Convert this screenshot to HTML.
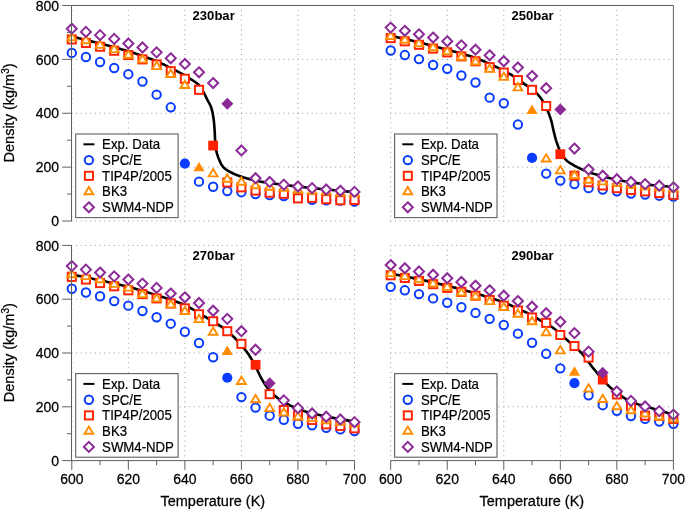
<!DOCTYPE html>
<html><head><meta charset="utf-8"><style>
html,body{margin:0;padding:0;background:#fff;width:685px;height:509px;overflow:hidden}
svg{display:block;will-change:transform}
.g{stroke:#9a9a9a;stroke-width:1;fill:none}
.ax{stroke:#606060;stroke-width:1.0;fill:none}
.tl{font-family:"Liberation Sans", sans-serif;font-size:14px;fill:#000;stroke:#000;stroke-width:0.25px}
.yl{font-family:"Liberation Sans", sans-serif;font-size:14.5px;fill:#000;stroke:#000;stroke-width:0.25px}
.lg{font-family:"Liberation Sans", sans-serif;font-size:13.2px;fill:#000;stroke:#000;stroke-width:0.2px}
.tt{font-family:"Liberation Sans", sans-serif;font-size:13.1px;font-weight:bold;fill:#000}
</style></head><body>
<svg width="685" height="509" viewBox="0 0 685 509">
<path d="M71.80,221.50V9.50" class="g" stroke-dasharray="1 3.898"/>
<path d="M128.34,221.50V9.50" class="g" stroke-dasharray="1 3.898"/>
<path d="M184.88,221.50V9.50" class="g" stroke-dasharray="1 3.898"/>
<path d="M241.42,221.50V9.50" class="g" stroke-dasharray="1 3.898"/>
<path d="M297.96,221.50V9.50" class="g" stroke-dasharray="1 3.898"/>
<path d="M354.50,221.50V9.50" class="g" stroke-dasharray="1 3.898"/>
<path d="M71.30,221.00H352.50" class="g" stroke-dasharray="1 3.712"/>
<path d="M71.30,167.12H352.50" class="g" stroke-dasharray="1 3.712"/>
<path d="M71.30,113.25H352.50" class="g" stroke-dasharray="1 3.712"/>
<path d="M71.30,59.38H352.50" class="g" stroke-dasharray="1 3.712"/>
<path d="M71.30,5.50H352.50" class="g" stroke-dasharray="1 3.712"/>
<path d="M390.70,221.50V9.50" class="g" stroke-dasharray="1 3.898"/>
<path d="M447.24,221.50V9.50" class="g" stroke-dasharray="1 3.898"/>
<path d="M503.78,221.50V9.50" class="g" stroke-dasharray="1 3.898"/>
<path d="M560.32,221.50V9.50" class="g" stroke-dasharray="1 3.898"/>
<path d="M616.86,221.50V9.50" class="g" stroke-dasharray="1 3.898"/>
<path d="M673.40,221.50V9.50" class="g" stroke-dasharray="1 3.898"/>
<path d="M390.20,221.00H671.40" class="g" stroke-dasharray="1 3.712"/>
<path d="M390.20,167.12H671.40" class="g" stroke-dasharray="1 3.712"/>
<path d="M390.20,113.25H671.40" class="g" stroke-dasharray="1 3.712"/>
<path d="M390.20,59.38H671.40" class="g" stroke-dasharray="1 3.712"/>
<path d="M390.20,5.50H671.40" class="g" stroke-dasharray="1 3.712"/>
<path d="M71.80,461.10V249.40" class="g" stroke-dasharray="1 3.891"/>
<path d="M128.34,461.10V249.40" class="g" stroke-dasharray="1 3.891"/>
<path d="M184.88,461.10V249.40" class="g" stroke-dasharray="1 3.891"/>
<path d="M241.42,461.10V249.40" class="g" stroke-dasharray="1 3.891"/>
<path d="M297.96,461.10V249.40" class="g" stroke-dasharray="1 3.891"/>
<path d="M354.50,461.10V249.40" class="g" stroke-dasharray="1 3.891"/>
<path d="M71.30,460.60H352.50" class="g" stroke-dasharray="1 3.712"/>
<path d="M71.30,406.80H352.50" class="g" stroke-dasharray="1 3.712"/>
<path d="M71.30,353.00H352.50" class="g" stroke-dasharray="1 3.712"/>
<path d="M71.30,299.20H352.50" class="g" stroke-dasharray="1 3.712"/>
<path d="M71.30,245.40H352.50" class="g" stroke-dasharray="1 3.712"/>
<path d="M390.70,461.10V249.40" class="g" stroke-dasharray="1 3.891"/>
<path d="M447.24,461.10V249.40" class="g" stroke-dasharray="1 3.891"/>
<path d="M503.78,461.10V249.40" class="g" stroke-dasharray="1 3.891"/>
<path d="M560.32,461.10V249.40" class="g" stroke-dasharray="1 3.891"/>
<path d="M616.86,461.10V249.40" class="g" stroke-dasharray="1 3.891"/>
<path d="M673.40,461.10V249.40" class="g" stroke-dasharray="1 3.891"/>
<path d="M390.20,460.60H671.40" class="g" stroke-dasharray="1 3.712"/>
<path d="M390.20,406.80H671.40" class="g" stroke-dasharray="1 3.712"/>
<path d="M390.20,353.00H671.40" class="g" stroke-dasharray="1 3.712"/>
<path d="M390.20,299.20H671.40" class="g" stroke-dasharray="1 3.712"/>
<path d="M390.20,245.40H671.40" class="g" stroke-dasharray="1 3.712"/>
<line x1="62.20" y1="221.00" x2="71.50" y2="221.00" class="ax"/>
<text transform="translate(59.1,226.20) scale(1,1.042)" class="tl" text-anchor="end">0</text>
<line x1="66.90" y1="194.06" x2="71.50" y2="194.06" class="ax"/>
<line x1="62.20" y1="167.12" x2="71.50" y2="167.12" class="ax"/>
<text transform="translate(59.1,172.32) scale(1,1.042)" class="tl" text-anchor="end">200</text>
<line x1="66.90" y1="140.19" x2="71.50" y2="140.19" class="ax"/>
<line x1="62.20" y1="113.25" x2="71.50" y2="113.25" class="ax"/>
<text transform="translate(59.1,118.45) scale(1,1.042)" class="tl" text-anchor="end">400</text>
<line x1="66.90" y1="86.31" x2="71.50" y2="86.31" class="ax"/>
<line x1="62.20" y1="59.38" x2="71.50" y2="59.38" class="ax"/>
<text transform="translate(59.1,64.58) scale(1,1.042)" class="tl" text-anchor="end">600</text>
<line x1="66.90" y1="32.44" x2="71.50" y2="32.44" class="ax"/>
<line x1="62.20" y1="5.50" x2="71.50" y2="5.50" class="ax"/>
<text transform="translate(59.1,10.70) scale(1,1.042)" class="tl" text-anchor="end">800</text>
<line x1="62.20" y1="460.60" x2="71.50" y2="460.60" class="ax"/>
<text transform="translate(59.1,465.80) scale(1,1.042)" class="tl" text-anchor="end">0</text>
<line x1="66.90" y1="433.70" x2="71.50" y2="433.70" class="ax"/>
<line x1="62.20" y1="406.80" x2="71.50" y2="406.80" class="ax"/>
<text transform="translate(59.1,412.00) scale(1,1.042)" class="tl" text-anchor="end">200</text>
<line x1="66.90" y1="379.90" x2="71.50" y2="379.90" class="ax"/>
<line x1="62.20" y1="353.00" x2="71.50" y2="353.00" class="ax"/>
<text transform="translate(59.1,358.20) scale(1,1.042)" class="tl" text-anchor="end">400</text>
<line x1="66.90" y1="326.10" x2="71.50" y2="326.10" class="ax"/>
<line x1="62.20" y1="299.20" x2="71.50" y2="299.20" class="ax"/>
<text transform="translate(59.1,304.40) scale(1,1.042)" class="tl" text-anchor="end">600</text>
<line x1="66.90" y1="272.30" x2="71.50" y2="272.30" class="ax"/>
<line x1="62.20" y1="245.40" x2="71.50" y2="245.40" class="ax"/>
<text transform="translate(59.1,250.60) scale(1,1.042)" class="tl" text-anchor="end">800</text>
<line x1="71.80" y1="460.60" x2="71.80" y2="469.90" class="ax"/>
<text transform="translate(71.80,483.8) scale(1,1.042)" class="tl" text-anchor="middle">600</text>
<line x1="100.07" y1="460.60" x2="100.07" y2="465.20" class="ax"/>
<line x1="128.34" y1="460.60" x2="128.34" y2="469.90" class="ax"/>
<text transform="translate(128.34,483.8) scale(1,1.042)" class="tl" text-anchor="middle">620</text>
<line x1="156.61" y1="460.60" x2="156.61" y2="465.20" class="ax"/>
<line x1="184.88" y1="460.60" x2="184.88" y2="469.90" class="ax"/>
<text transform="translate(184.88,483.8) scale(1,1.042)" class="tl" text-anchor="middle">640</text>
<line x1="213.15" y1="460.60" x2="213.15" y2="465.20" class="ax"/>
<line x1="241.42" y1="460.60" x2="241.42" y2="469.90" class="ax"/>
<text transform="translate(241.42,483.8) scale(1,1.042)" class="tl" text-anchor="middle">660</text>
<line x1="269.69" y1="460.60" x2="269.69" y2="465.20" class="ax"/>
<line x1="297.96" y1="460.60" x2="297.96" y2="469.90" class="ax"/>
<text transform="translate(297.96,483.8) scale(1,1.042)" class="tl" text-anchor="middle">680</text>
<line x1="326.23" y1="460.60" x2="326.23" y2="465.20" class="ax"/>
<line x1="354.50" y1="460.60" x2="354.50" y2="469.90" class="ax"/>
<text transform="translate(354.50,483.8) scale(1,1.042)" class="tl" text-anchor="middle">700</text>
<line x1="390.70" y1="460.60" x2="390.70" y2="469.90" class="ax"/>
<text transform="translate(390.70,483.8) scale(1,1.042)" class="tl" text-anchor="middle">600</text>
<line x1="418.97" y1="460.60" x2="418.97" y2="465.20" class="ax"/>
<line x1="447.24" y1="460.60" x2="447.24" y2="469.90" class="ax"/>
<text transform="translate(447.24,483.8) scale(1,1.042)" class="tl" text-anchor="middle">620</text>
<line x1="475.51" y1="460.60" x2="475.51" y2="465.20" class="ax"/>
<line x1="503.78" y1="460.60" x2="503.78" y2="469.90" class="ax"/>
<text transform="translate(503.78,483.8) scale(1,1.042)" class="tl" text-anchor="middle">640</text>
<line x1="532.05" y1="460.60" x2="532.05" y2="465.20" class="ax"/>
<line x1="560.32" y1="460.60" x2="560.32" y2="469.90" class="ax"/>
<text transform="translate(560.32,483.8) scale(1,1.042)" class="tl" text-anchor="middle">660</text>
<line x1="588.59" y1="460.60" x2="588.59" y2="465.20" class="ax"/>
<line x1="616.86" y1="460.60" x2="616.86" y2="469.90" class="ax"/>
<text transform="translate(616.86,483.8) scale(1,1.042)" class="tl" text-anchor="middle">680</text>
<line x1="645.13" y1="460.60" x2="645.13" y2="465.20" class="ax"/>
<line x1="673.40" y1="460.60" x2="673.40" y2="469.90" class="ax"/>
<text transform="translate(673.40,483.8) scale(1,1.042)" class="tl" text-anchor="middle">700</text>
<text transform="translate(14.4,112.95) rotate(-90) scale(1,1.042)" class="yl" text-anchor="middle">Density (kg/m<tspan dy="-5.6" font-size="10px">3</tspan><tspan dy="5.6">)</tspan></text>
<text transform="translate(14.4,352.70) rotate(-90) scale(1,1.042)" class="yl" text-anchor="middle">Density (kg/m<tspan dy="-5.6" font-size="10px">3</tspan><tspan dy="5.6">)</tspan></text>
<text transform="translate(212.80,505.5) scale(1,1.042)" class="yl" text-anchor="middle">Temperature (K)</text>
<text transform="translate(531.85,505.5) scale(1,1.042)" class="yl" text-anchor="middle">Temperature (K)</text>
<path d="M71.80,36.48 L73.21,36.83 L74.63,37.18 L76.04,37.53 L77.45,37.88 L78.87,38.23 L80.28,38.58 L81.69,38.93 L83.11,39.28 L84.52,39.63 L85.94,39.98 L87.35,40.33 L88.76,40.68 L90.18,41.02 L91.59,41.37 L93.00,41.71 L94.42,42.06 L95.83,42.41 L97.25,42.76 L98.66,43.12 L100.07,43.48 L101.48,43.85 L102.90,44.22 L104.31,44.59 L105.73,44.96 L107.14,45.33 L108.56,45.71 L109.97,46.09 L111.38,46.48 L112.79,46.86 L114.20,47.25 L115.62,47.64 L117.04,48.04 L118.45,48.43 L119.87,48.83 L121.28,49.23 L122.69,49.63 L124.11,50.04 L125.52,50.45 L126.93,50.87 L128.34,51.29 L129.76,51.73 L131.17,52.16 L132.59,52.61 L134.01,53.05 L135.42,53.50 L136.83,53.96 L138.25,54.43 L139.66,54.90 L141.07,55.38 L142.47,55.87 L143.89,56.38 L145.31,56.88 L146.73,57.39 L148.15,57.91 L149.57,58.44 L150.98,58.98 L152.39,59.53 L153.80,60.09 L155.21,60.67 L156.61,61.26 L158.03,61.88 L159.46,62.52 L160.87,63.17 L162.29,63.83 L163.70,64.50 L165.11,65.19 L166.52,65.88 L167.93,66.58 L169.34,67.29 L170.75,68.00 L172.17,68.71 L173.59,69.43 L175.01,70.15 L176.43,70.87 L177.85,71.61 L179.27,72.36 L180.68,73.12 L182.09,73.90 L183.49,74.71 L184.88,75.54 L186.36,76.43 L187.89,77.35 L189.45,78.31 L191.02,79.28 L192.56,80.27 L194.06,81.27 L195.48,82.27 L196.79,83.27 L197.98,84.26 L199.01,85.23 L199.61,85.88 L200.14,86.51 L200.61,87.14 L201.03,87.77 L201.42,88.40 L201.79,89.04 L202.14,89.68 L202.50,90.34 L202.87,91.01 L203.26,91.70 L203.70,92.49 L204.14,93.30 L204.57,94.13 L205.00,94.98 L205.43,95.84 L205.85,96.70 L206.27,97.56 L206.68,98.41 L207.09,99.24 L207.50,100.05 L207.87,100.77 L208.25,101.46 L208.62,102.14 L209.00,102.80 L209.37,103.47 L209.73,104.15 L210.08,104.83 L210.42,105.54 L210.73,106.28 L211.03,107.05 L211.35,108.02 L211.66,109.03 L211.93,110.07 L212.19,111.15 L212.43,112.24 L212.66,113.35 L212.87,114.48 L213.07,115.60 L213.25,116.72 L213.43,117.83 L213.60,118.97 L213.75,120.12 L213.89,121.28 L214.01,122.44 L214.12,123.61 L214.22,124.78 L214.31,125.95 L214.39,127.11 L214.48,128.27 L214.56,129.41 L214.64,130.51 L214.70,131.59 L214.75,132.68 L214.80,133.76 L214.84,134.83 L214.89,135.91 L214.93,136.98 L214.99,138.05 L215.05,139.12 L215.13,140.19 L215.21,141.25 L215.28,142.31 L215.36,143.38 L215.44,144.44 L215.53,145.50 L215.63,146.56 L215.75,147.60 L215.89,148.65 L216.06,149.68 L216.26,150.69 L216.48,151.67 L216.73,152.65 L217.00,153.63 L217.30,154.60 L217.61,155.56 L217.93,156.51 L218.27,157.44 L218.63,158.36 L218.99,159.25 L219.37,160.12 L219.71,160.89 L220.04,161.64 L220.38,162.39 L220.72,163.12 L221.08,163.83 L221.46,164.53 L221.87,165.21 L222.32,165.87 L222.80,166.51 L223.33,167.12 L223.96,167.77 L224.64,168.37 L225.37,168.96 L226.14,169.51 L226.95,170.05 L227.78,170.57 L228.63,171.07 L229.49,171.56 L230.37,172.04 L231.24,172.51 L232.20,173.01 L233.18,173.49 L234.18,173.95 L235.20,174.40 L236.24,174.82 L237.30,175.24 L238.38,175.65 L239.47,176.04 L240.58,176.44 L241.70,176.82 L243.00,177.25 L244.33,177.67 L245.69,178.08 L247.07,178.48 L248.47,178.86 L249.89,179.24 L251.31,179.60 L252.73,179.94 L254.15,180.28 L255.56,180.59 L256.93,180.89 L258.28,181.16 L259.62,181.42 L260.95,181.66 L262.30,181.89 L263.67,182.11 L265.08,182.33 L266.54,182.55 L268.08,182.78 L269.69,183.02 L272.12,183.37 L274.72,183.72 L277.45,184.08 L280.29,184.44 L283.21,184.80 L286.18,185.15 L289.17,185.51 L292.15,185.85 L295.09,186.19 L297.96,186.52 L300.79,186.84 L303.61,187.15 L306.44,187.46 L309.27,187.76 L312.09,188.05 L314.92,188.34 L317.75,188.63 L320.57,188.92 L323.40,189.20 L326.23,189.48 L329.06,189.76 L331.88,190.04 L334.71,190.31 L337.54,190.58 L340.36,190.85 L343.19,191.11 L346.02,191.38 L348.85,191.64 L351.67,191.91 L354.50,192.18" fill="none" stroke="#000" stroke-width="2.6" stroke-linejoin="round"/>
<circle cx="71.80" cy="52.91" r="4.2" fill="#fff" stroke="#0a3cff" stroke-width="2.0"/>
<circle cx="85.94" cy="56.95" r="4.2" fill="#fff" stroke="#0a3cff" stroke-width="2.0"/>
<circle cx="100.07" cy="62.07" r="4.2" fill="#fff" stroke="#0a3cff" stroke-width="2.0"/>
<circle cx="114.20" cy="68.00" r="4.2" fill="#fff" stroke="#0a3cff" stroke-width="2.0"/>
<circle cx="128.34" cy="74.19" r="4.2" fill="#fff" stroke="#0a3cff" stroke-width="2.0"/>
<circle cx="142.47" cy="81.46" r="4.2" fill="#fff" stroke="#0a3cff" stroke-width="2.0"/>
<circle cx="156.61" cy="94.66" r="4.2" fill="#fff" stroke="#0a3cff" stroke-width="2.0"/>
<circle cx="170.75" cy="107.32" r="4.2" fill="#fff" stroke="#0a3cff" stroke-width="2.0"/>
<circle cx="184.88" cy="163.62" r="5.1" fill="#0a3cff"/>
<circle cx="199.01" cy="181.67" r="4.2" fill="#fff" stroke="#0a3cff" stroke-width="2.0"/>
<circle cx="213.15" cy="186.79" r="4.2" fill="#fff" stroke="#0a3cff" stroke-width="2.0"/>
<circle cx="227.29" cy="191.10" r="4.2" fill="#fff" stroke="#0a3cff" stroke-width="2.0"/>
<circle cx="241.42" cy="192.18" r="4.2" fill="#fff" stroke="#0a3cff" stroke-width="2.0"/>
<circle cx="255.56" cy="194.06" r="4.2" fill="#fff" stroke="#0a3cff" stroke-width="2.0"/>
<circle cx="269.69" cy="195.14" r="4.2" fill="#fff" stroke="#0a3cff" stroke-width="2.0"/>
<circle cx="283.82" cy="195.95" r="4.2" fill="#fff" stroke="#0a3cff" stroke-width="2.0"/>
<circle cx="297.96" cy="197.83" r="4.2" fill="#fff" stroke="#0a3cff" stroke-width="2.0"/>
<circle cx="312.09" cy="199.72" r="4.2" fill="#fff" stroke="#0a3cff" stroke-width="2.0"/>
<circle cx="326.23" cy="200.26" r="4.2" fill="#fff" stroke="#0a3cff" stroke-width="2.0"/>
<circle cx="340.37" cy="200.53" r="4.2" fill="#fff" stroke="#0a3cff" stroke-width="2.0"/>
<circle cx="354.50" cy="201.60" r="4.2" fill="#fff" stroke="#0a3cff" stroke-width="2.0"/>
<rect x="67.75" y="35.39" width="8.10" height="8.10" fill="#fff" stroke="#ff2200" stroke-width="1.95"/>
<rect x="81.89" y="38.89" width="8.10" height="8.10" fill="#fff" stroke="#ff2200" stroke-width="1.95"/>
<rect x="96.02" y="42.66" width="8.10" height="8.10" fill="#fff" stroke="#ff2200" stroke-width="1.95"/>
<rect x="110.15" y="46.70" width="8.10" height="8.10" fill="#fff" stroke="#ff2200" stroke-width="1.95"/>
<rect x="124.29" y="51.02" width="8.10" height="8.10" fill="#fff" stroke="#ff2200" stroke-width="1.95"/>
<rect x="138.42" y="55.33" width="8.10" height="8.10" fill="#fff" stroke="#ff2200" stroke-width="1.95"/>
<rect x="152.56" y="60.44" width="8.10" height="8.10" fill="#fff" stroke="#ff2200" stroke-width="1.95"/>
<rect x="166.69" y="67.18" width="8.10" height="8.10" fill="#fff" stroke="#ff2200" stroke-width="1.95"/>
<rect x="180.83" y="74.72" width="8.10" height="8.10" fill="#fff" stroke="#ff2200" stroke-width="1.95"/>
<rect x="194.96" y="85.76" width="8.10" height="8.10" fill="#fff" stroke="#ff2200" stroke-width="1.95"/>
<rect x="208.25" y="140.67" width="9.80" height="9.80" fill="#ff2200"/>
<rect x="223.24" y="178.43" width="8.10" height="8.10" fill="#fff" stroke="#ff2200" stroke-width="1.95"/>
<rect x="237.37" y="183.28" width="8.10" height="8.10" fill="#fff" stroke="#ff2200" stroke-width="1.95"/>
<rect x="251.50" y="186.51" width="8.10" height="8.10" fill="#fff" stroke="#ff2200" stroke-width="1.95"/>
<rect x="265.64" y="188.67" width="8.10" height="8.10" fill="#fff" stroke="#ff2200" stroke-width="1.95"/>
<rect x="279.77" y="189.74" width="8.10" height="8.10" fill="#fff" stroke="#ff2200" stroke-width="1.95"/>
<rect x="293.91" y="194.32" width="8.10" height="8.10" fill="#fff" stroke="#ff2200" stroke-width="1.95"/>
<rect x="308.04" y="193.78" width="8.10" height="8.10" fill="#fff" stroke="#ff2200" stroke-width="1.95"/>
<rect x="322.18" y="195.13" width="8.10" height="8.10" fill="#fff" stroke="#ff2200" stroke-width="1.95"/>
<rect x="336.31" y="196.21" width="8.10" height="8.10" fill="#fff" stroke="#ff2200" stroke-width="1.95"/>
<rect x="350.45" y="195.94" width="8.10" height="8.10" fill="#fff" stroke="#ff2200" stroke-width="1.95"/>
<path d="M71.80,33.01L76.20,40.31L67.40,40.31Z" fill="#fff" stroke="#ff8c00" stroke-width="1.9" stroke-linejoin="miter"/>
<path d="M85.94,35.97L90.34,43.27L81.53,43.27Z" fill="#fff" stroke="#ff8c00" stroke-width="1.9" stroke-linejoin="miter"/>
<path d="M100.07,40.55L104.47,47.85L95.67,47.85Z" fill="#fff" stroke="#ff8c00" stroke-width="1.9" stroke-linejoin="miter"/>
<path d="M114.20,44.86L118.60,52.16L109.80,52.16Z" fill="#fff" stroke="#ff8c00" stroke-width="1.9" stroke-linejoin="miter"/>
<path d="M128.34,50.52L132.74,57.82L123.94,57.82Z" fill="#fff" stroke="#ff8c00" stroke-width="1.9" stroke-linejoin="miter"/>
<path d="M142.47,55.10L146.88,62.40L138.07,62.40Z" fill="#fff" stroke="#ff8c00" stroke-width="1.9" stroke-linejoin="miter"/>
<path d="M156.61,61.83L161.01,69.13L152.21,69.13Z" fill="#fff" stroke="#ff8c00" stroke-width="1.9" stroke-linejoin="miter"/>
<path d="M170.75,69.64L175.15,76.94L166.34,76.94Z" fill="#fff" stroke="#ff8c00" stroke-width="1.9" stroke-linejoin="miter"/>
<path d="M184.88,80.69L189.28,87.99L180.48,87.99Z" fill="#fff" stroke="#ff8c00" stroke-width="1.9" stroke-linejoin="miter"/>
<path d="M199.01,161.89L204.66,171.29L193.36,171.29Z" fill="#ff8c00"/>
<path d="M213.15,169.04L217.55,176.34L208.75,176.34Z" fill="#fff" stroke="#ff8c00" stroke-width="1.9" stroke-linejoin="miter"/>
<path d="M227.29,174.43L231.69,181.73L222.89,181.73Z" fill="#fff" stroke="#ff8c00" stroke-width="1.9" stroke-linejoin="miter"/>
<path d="M241.42,177.39L245.82,184.69L237.02,184.69Z" fill="#fff" stroke="#ff8c00" stroke-width="1.9" stroke-linejoin="miter"/>
<path d="M255.56,180.90L259.95,188.20L251.16,188.20Z" fill="#fff" stroke="#ff8c00" stroke-width="1.9" stroke-linejoin="miter"/>
<path d="M269.69,182.51L274.09,189.81L265.29,189.81Z" fill="#fff" stroke="#ff8c00" stroke-width="1.9" stroke-linejoin="miter"/>
<path d="M283.82,183.59L288.22,190.89L279.43,190.89Z" fill="#fff" stroke="#ff8c00" stroke-width="1.9" stroke-linejoin="miter"/>
<path d="M297.96,185.48L302.36,192.78L293.56,192.78Z" fill="#fff" stroke="#ff8c00" stroke-width="1.9" stroke-linejoin="miter"/>
<path d="M312.09,186.55L316.49,193.85L307.69,193.85Z" fill="#fff" stroke="#ff8c00" stroke-width="1.9" stroke-linejoin="miter"/>
<path d="M326.23,187.09L330.63,194.39L321.83,194.39Z" fill="#fff" stroke="#ff8c00" stroke-width="1.9" stroke-linejoin="miter"/>
<path d="M340.37,188.17L344.76,195.47L335.97,195.47Z" fill="#fff" stroke="#ff8c00" stroke-width="1.9" stroke-linejoin="miter"/>
<path d="M354.50,188.71L358.90,196.01L350.10,196.01Z" fill="#fff" stroke="#ff8c00" stroke-width="1.9" stroke-linejoin="miter"/>
<path d="M71.80,23.67L76.80,28.67L71.80,33.67L66.80,28.67Z" fill="#fff" stroke="#8b2a96" stroke-width="2.0"/>
<path d="M85.94,26.90L90.94,31.90L85.94,36.90L80.94,31.90Z" fill="#fff" stroke="#8b2a96" stroke-width="2.0"/>
<path d="M100.07,30.13L105.07,35.13L100.07,40.13L95.07,35.13Z" fill="#fff" stroke="#8b2a96" stroke-width="2.0"/>
<path d="M114.20,33.90L119.20,38.90L114.20,43.90L109.20,38.90Z" fill="#fff" stroke="#8b2a96" stroke-width="2.0"/>
<path d="M128.34,38.48L133.34,43.48L128.34,48.48L123.34,43.48Z" fill="#fff" stroke="#8b2a96" stroke-width="2.0"/>
<path d="M142.47,42.52L147.47,47.52L142.47,52.52L137.47,47.52Z" fill="#fff" stroke="#8b2a96" stroke-width="2.0"/>
<path d="M156.61,47.37L161.61,52.37L156.61,57.37L151.61,52.37Z" fill="#fff" stroke="#8b2a96" stroke-width="2.0"/>
<path d="M170.75,53.30L175.75,58.30L170.75,63.30L165.75,58.30Z" fill="#fff" stroke="#8b2a96" stroke-width="2.0"/>
<path d="M184.88,58.95L189.88,63.95L184.88,68.95L179.88,63.95Z" fill="#fff" stroke="#8b2a96" stroke-width="2.0"/>
<path d="M199.01,67.31L204.01,72.31L199.01,77.31L194.01,72.31Z" fill="#fff" stroke="#8b2a96" stroke-width="2.0"/>
<path d="M213.15,78.08L218.15,83.08L213.15,88.08L208.15,83.08Z" fill="#fff" stroke="#8b2a96" stroke-width="2.0"/>
<path d="M227.29,97.82L233.29,103.82L227.29,109.82L221.29,103.82Z" fill="#8b2a96"/>
<path d="M241.42,145.42L246.42,150.42L241.42,155.42L236.42,150.42Z" fill="#fff" stroke="#8b2a96" stroke-width="2.0"/>
<path d="M255.56,173.17L260.56,178.17L255.56,183.17L250.56,178.17Z" fill="#fff" stroke="#8b2a96" stroke-width="2.0"/>
<path d="M269.69,176.94L274.69,181.94L269.69,186.94L264.69,181.94Z" fill="#fff" stroke="#8b2a96" stroke-width="2.0"/>
<path d="M283.82,179.63L288.82,184.63L283.82,189.63L278.82,184.63Z" fill="#fff" stroke="#8b2a96" stroke-width="2.0"/>
<path d="M297.96,181.52L302.96,186.52L297.96,191.52L292.96,186.52Z" fill="#fff" stroke="#8b2a96" stroke-width="2.0"/>
<path d="M312.09,183.14L317.09,188.14L312.09,193.14L307.09,188.14Z" fill="#fff" stroke="#8b2a96" stroke-width="2.0"/>
<path d="M326.23,184.48L331.23,189.48L326.23,194.48L321.23,189.48Z" fill="#fff" stroke="#8b2a96" stroke-width="2.0"/>
<path d="M340.37,185.83L345.37,190.83L340.37,195.83L335.37,190.83Z" fill="#fff" stroke="#8b2a96" stroke-width="2.0"/>
<path d="M354.50,186.91L359.50,191.91L354.50,196.91L349.50,191.91Z" fill="#fff" stroke="#8b2a96" stroke-width="2.0"/>
<text transform="translate(213.65,20.20) scale(1,1.042)" class="tt" text-anchor="middle">230bar</text>
<rect x="75.70" y="134.00" width="102.4" height="83.6" fill="#fff" stroke="#606060" stroke-width="1.1"/>
<line x1="83.40" y1="144.30" x2="94.40" y2="144.30" stroke="#000" stroke-width="2.0"/>
<circle cx="88.90" cy="160.10" r="4.2" fill="#fff" stroke="#0a3cff" stroke-width="2.0"/>
<rect x="84.85" y="171.75" width="8.10" height="8.10" fill="#fff" stroke="#ff2200" stroke-width="1.95"/>
<path d="M88.90,186.90L93.30,194.20L84.50,194.20Z" fill="#fff" stroke="#ff8c00" stroke-width="1.9" stroke-linejoin="miter"/>
<path d="M88.90,202.30L93.90,207.30L88.90,212.30L83.90,207.30Z" fill="#fff" stroke="#8b2a96" stroke-width="2.0"/>
<text transform="translate(102.10,149.20) scale(1,1.042)" class="lg">Exp. Data</text>
<text transform="translate(102.10,165.00) scale(1,1.042)" class="lg">SPC/E</text>
<text transform="translate(102.10,180.70) scale(1,1.042)" class="lg">TIP4P/2005</text>
<text transform="translate(102.10,196.30) scale(1,1.042)" class="lg">BK3</text>
<text transform="translate(102.10,212.20) scale(1,1.042)" class="lg">SWM4-NDP</text>
<path d="M390.70,35.67 L393.53,36.34 L396.36,37.01 L399.18,37.67 L402.01,38.34 L404.84,39.00 L407.67,39.67 L410.49,40.35 L413.32,41.02 L416.15,41.71 L418.97,42.40 L421.80,43.11 L424.63,43.81 L427.46,44.52 L430.29,45.23 L433.12,45.94 L435.94,46.67 L438.77,47.40 L441.60,48.15 L444.42,48.91 L447.24,49.68 L450.08,50.45 L452.91,51.22 L455.75,51.98 L458.59,52.75 L461.43,53.54 L464.26,54.35 L467.08,55.20 L469.90,56.09 L472.71,57.03 L475.51,58.03 L478.41,59.13 L481.37,60.32 L484.37,61.56 L487.36,62.86 L490.33,64.19 L493.24,65.52 L496.07,66.86 L498.79,68.18 L501.37,69.46 L503.78,70.69 L505.44,71.56 L507.04,72.42 L508.58,73.28 L510.08,74.14 L511.51,74.98 L512.90,75.82 L514.23,76.64 L515.51,77.46 L516.74,78.26 L517.91,79.04 L518.74,79.61 L519.51,80.17 L520.24,80.72 L520.94,81.26 L521.62,81.80 L522.28,82.34 L522.94,82.86 L523.61,83.39 L524.28,83.91 L524.98,84.43 L525.69,84.93 L526.41,85.42 L527.13,85.89 L527.85,86.37 L528.58,86.84 L529.30,87.31 L530.01,87.79 L530.71,88.27 L531.39,88.77 L532.05,89.28 L532.66,89.76 L533.26,90.25 L533.85,90.74 L534.43,91.24 L535.00,91.74 L535.55,92.25 L536.11,92.77 L536.65,93.30 L537.18,93.84 L537.70,94.39 L538.23,94.97 L538.74,95.55 L539.24,96.15 L539.74,96.76 L540.22,97.37 L540.70,98.00 L541.17,98.63 L541.62,99.28 L542.07,99.93 L542.51,100.59 L542.95,101.27 L543.37,101.95 L543.78,102.63 L544.17,103.32 L544.56,104.02 L544.95,104.74 L545.33,105.48 L545.71,106.24 L546.08,107.03 L546.47,107.86 L546.97,109.00 L547.49,110.23 L548.02,111.52 L548.54,112.86 L549.05,114.23 L549.55,115.60 L550.03,116.96 L550.48,118.30 L550.90,119.58 L551.27,120.79 L551.54,121.71 L551.77,122.60 L551.97,123.46 L552.16,124.30 L552.34,125.13 L552.51,125.96 L552.68,126.80 L552.85,127.65 L553.04,128.52 L553.25,129.41 L553.51,130.49 L553.79,131.64 L554.09,132.84 L554.39,134.05 L554.69,135.27 L554.99,136.45 L555.28,137.59 L555.57,138.65 L555.83,139.62 L556.08,140.46 L556.20,140.85 L556.31,141.21 L556.42,141.53 L556.52,141.83 L556.62,142.11 L556.73,142.39 L556.83,142.68 L556.95,142.98 L557.07,143.32 L557.21,143.69 L557.45,144.35 L557.70,145.08 L557.96,145.86 L558.24,146.69 L558.53,147.54 L558.85,148.40 L559.18,149.27 L559.54,150.13 L559.92,150.97 L560.32,151.77 L560.78,152.61 L561.26,153.46 L561.76,154.31 L562.29,155.16 L562.84,156.00 L563.42,156.82 L564.02,157.62 L564.64,158.40 L565.30,159.15 L565.97,159.85 L566.68,160.52 L567.41,161.15 L568.16,161.74 L568.94,162.31 L569.74,162.86 L570.57,163.40 L571.43,163.92 L572.31,164.44 L573.23,164.97 L574.17,165.51 L575.41,166.19 L576.71,166.88 L578.08,167.56 L579.49,168.24 L580.94,168.91 L582.41,169.57 L583.89,170.21 L585.38,170.83 L586.85,171.42 L588.31,171.97 L589.73,172.49 L591.16,172.98 L592.60,173.44 L594.04,173.88 L595.49,174.30 L596.94,174.71 L598.39,175.11 L599.84,175.50 L601.28,175.89 L602.72,176.28 L604.12,176.66 L605.47,177.03 L606.81,177.39 L608.14,177.75 L609.48,178.09 L610.85,178.43 L612.25,178.77 L613.71,179.11 L615.24,179.45 L616.86,179.79 L619.29,180.27 L621.88,180.76 L624.61,181.25 L627.45,181.74 L630.37,182.22 L633.34,182.69 L636.33,183.14 L639.31,183.58 L642.25,183.98 L645.13,184.37 L647.95,184.71 L650.78,185.02 L653.60,185.31 L656.43,185.58 L659.26,185.83 L662.09,186.07 L664.92,186.31 L667.74,186.55 L670.57,186.80 L673.40,187.06" fill="none" stroke="#000" stroke-width="2.6" stroke-linejoin="round"/>
<circle cx="390.70" cy="50.49" r="4.2" fill="#fff" stroke="#0a3cff" stroke-width="2.0"/>
<circle cx="404.83" cy="55.06" r="4.2" fill="#fff" stroke="#0a3cff" stroke-width="2.0"/>
<circle cx="418.97" cy="59.11" r="4.2" fill="#fff" stroke="#0a3cff" stroke-width="2.0"/>
<circle cx="433.10" cy="65.03" r="4.2" fill="#fff" stroke="#0a3cff" stroke-width="2.0"/>
<circle cx="447.24" cy="68.80" r="4.2" fill="#fff" stroke="#0a3cff" stroke-width="2.0"/>
<circle cx="461.38" cy="75.54" r="4.2" fill="#fff" stroke="#0a3cff" stroke-width="2.0"/>
<circle cx="475.51" cy="82.54" r="4.2" fill="#fff" stroke="#0a3cff" stroke-width="2.0"/>
<circle cx="489.64" cy="97.63" r="4.2" fill="#fff" stroke="#0a3cff" stroke-width="2.0"/>
<circle cx="503.78" cy="103.28" r="4.2" fill="#fff" stroke="#0a3cff" stroke-width="2.0"/>
<circle cx="517.91" cy="124.56" r="4.2" fill="#fff" stroke="#0a3cff" stroke-width="2.0"/>
<circle cx="532.05" cy="157.97" r="5.1" fill="#0a3cff"/>
<circle cx="546.18" cy="173.59" r="4.2" fill="#fff" stroke="#0a3cff" stroke-width="2.0"/>
<circle cx="560.32" cy="180.59" r="4.2" fill="#fff" stroke="#0a3cff" stroke-width="2.0"/>
<circle cx="574.45" cy="184.10" r="4.2" fill="#fff" stroke="#0a3cff" stroke-width="2.0"/>
<circle cx="588.59" cy="188.14" r="4.2" fill="#fff" stroke="#0a3cff" stroke-width="2.0"/>
<circle cx="602.72" cy="189.48" r="4.2" fill="#fff" stroke="#0a3cff" stroke-width="2.0"/>
<circle cx="616.86" cy="191.37" r="4.2" fill="#fff" stroke="#0a3cff" stroke-width="2.0"/>
<circle cx="631.00" cy="193.52" r="4.2" fill="#fff" stroke="#0a3cff" stroke-width="2.0"/>
<circle cx="645.13" cy="194.60" r="4.2" fill="#fff" stroke="#0a3cff" stroke-width="2.0"/>
<circle cx="659.26" cy="195.68" r="4.2" fill="#fff" stroke="#0a3cff" stroke-width="2.0"/>
<circle cx="673.40" cy="196.49" r="4.2" fill="#fff" stroke="#0a3cff" stroke-width="2.0"/>
<rect x="386.65" y="34.04" width="8.10" height="8.10" fill="#fff" stroke="#ff2200" stroke-width="1.95"/>
<rect x="400.78" y="37.28" width="8.10" height="8.10" fill="#fff" stroke="#ff2200" stroke-width="1.95"/>
<rect x="414.92" y="40.78" width="8.10" height="8.10" fill="#fff" stroke="#ff2200" stroke-width="1.95"/>
<rect x="429.05" y="44.55" width="8.10" height="8.10" fill="#fff" stroke="#ff2200" stroke-width="1.95"/>
<rect x="443.19" y="48.32" width="8.10" height="8.10" fill="#fff" stroke="#ff2200" stroke-width="1.95"/>
<rect x="457.32" y="52.36" width="8.10" height="8.10" fill="#fff" stroke="#ff2200" stroke-width="1.95"/>
<rect x="471.46" y="57.21" width="8.10" height="8.10" fill="#fff" stroke="#ff2200" stroke-width="1.95"/>
<rect x="485.59" y="63.14" width="8.10" height="8.10" fill="#fff" stroke="#ff2200" stroke-width="1.95"/>
<rect x="499.73" y="68.52" width="8.10" height="8.10" fill="#fff" stroke="#ff2200" stroke-width="1.95"/>
<rect x="513.87" y="76.07" width="8.10" height="8.10" fill="#fff" stroke="#ff2200" stroke-width="1.95"/>
<rect x="528.00" y="85.76" width="8.10" height="8.10" fill="#fff" stroke="#ff2200" stroke-width="1.95"/>
<rect x="542.13" y="101.93" width="8.10" height="8.10" fill="#fff" stroke="#ff2200" stroke-width="1.95"/>
<rect x="555.42" y="149.29" width="9.80" height="9.80" fill="#ff2200"/>
<rect x="570.40" y="171.69" width="8.10" height="8.10" fill="#fff" stroke="#ff2200" stroke-width="1.95"/>
<rect x="584.54" y="178.16" width="8.10" height="8.10" fill="#fff" stroke="#ff2200" stroke-width="1.95"/>
<rect x="598.67" y="181.39" width="8.10" height="8.10" fill="#fff" stroke="#ff2200" stroke-width="1.95"/>
<rect x="612.81" y="184.09" width="8.10" height="8.10" fill="#fff" stroke="#ff2200" stroke-width="1.95"/>
<rect x="626.95" y="185.97" width="8.10" height="8.10" fill="#fff" stroke="#ff2200" stroke-width="1.95"/>
<rect x="641.08" y="187.32" width="8.10" height="8.10" fill="#fff" stroke="#ff2200" stroke-width="1.95"/>
<rect x="655.22" y="188.94" width="8.10" height="8.10" fill="#fff" stroke="#ff2200" stroke-width="1.95"/>
<rect x="669.35" y="190.82" width="8.10" height="8.10" fill="#fff" stroke="#ff2200" stroke-width="1.95"/>
<path d="M390.70,31.66L395.10,38.96L386.30,38.96Z" fill="#fff" stroke="#ff8c00" stroke-width="1.9" stroke-linejoin="miter"/>
<path d="M404.83,35.43L409.23,42.73L400.44,42.73Z" fill="#fff" stroke="#ff8c00" stroke-width="1.9" stroke-linejoin="miter"/>
<path d="M418.97,38.94L423.37,46.24L414.57,46.24Z" fill="#fff" stroke="#ff8c00" stroke-width="1.9" stroke-linejoin="miter"/>
<path d="M433.10,42.98L437.50,50.28L428.70,50.28Z" fill="#fff" stroke="#ff8c00" stroke-width="1.9" stroke-linejoin="miter"/>
<path d="M447.24,47.02L451.64,54.32L442.84,54.32Z" fill="#fff" stroke="#ff8c00" stroke-width="1.9" stroke-linejoin="miter"/>
<path d="M461.38,52.40L465.77,59.70L456.98,59.70Z" fill="#fff" stroke="#ff8c00" stroke-width="1.9" stroke-linejoin="miter"/>
<path d="M475.51,57.25L479.91,64.55L471.11,64.55Z" fill="#fff" stroke="#ff8c00" stroke-width="1.9" stroke-linejoin="miter"/>
<path d="M489.64,64.53L494.04,71.83L485.25,71.83Z" fill="#fff" stroke="#ff8c00" stroke-width="1.9" stroke-linejoin="miter"/>
<path d="M503.78,72.61L508.18,79.91L499.38,79.91Z" fill="#fff" stroke="#ff8c00" stroke-width="1.9" stroke-linejoin="miter"/>
<path d="M517.91,83.11L522.31,90.41L513.51,90.41Z" fill="#fff" stroke="#ff8c00" stroke-width="1.9" stroke-linejoin="miter"/>
<path d="M532.05,104.51L537.70,113.91L526.40,113.91Z" fill="#ff8c00"/>
<path d="M546.18,154.23L550.58,161.53L541.78,161.53Z" fill="#fff" stroke="#ff8c00" stroke-width="1.9" stroke-linejoin="miter"/>
<path d="M560.32,166.08L564.72,173.38L555.92,173.38Z" fill="#fff" stroke="#ff8c00" stroke-width="1.9" stroke-linejoin="miter"/>
<path d="M574.45,170.93L578.85,178.23L570.05,178.23Z" fill="#fff" stroke="#ff8c00" stroke-width="1.9" stroke-linejoin="miter"/>
<path d="M588.59,175.51L592.99,182.81L584.19,182.81Z" fill="#fff" stroke="#ff8c00" stroke-width="1.9" stroke-linejoin="miter"/>
<path d="M602.72,177.12L607.12,184.42L598.32,184.42Z" fill="#fff" stroke="#ff8c00" stroke-width="1.9" stroke-linejoin="miter"/>
<path d="M616.86,178.74L621.26,186.04L612.46,186.04Z" fill="#fff" stroke="#ff8c00" stroke-width="1.9" stroke-linejoin="miter"/>
<path d="M631.00,180.63L635.39,187.93L626.60,187.93Z" fill="#fff" stroke="#ff8c00" stroke-width="1.9" stroke-linejoin="miter"/>
<path d="M645.13,181.97L649.53,189.27L640.73,189.27Z" fill="#fff" stroke="#ff8c00" stroke-width="1.9" stroke-linejoin="miter"/>
<path d="M659.26,183.05L663.66,190.35L654.87,190.35Z" fill="#fff" stroke="#ff8c00" stroke-width="1.9" stroke-linejoin="miter"/>
<path d="M673.40,184.13L677.80,191.43L669.00,191.43Z" fill="#fff" stroke="#ff8c00" stroke-width="1.9" stroke-linejoin="miter"/>
<path d="M390.70,22.59L395.70,27.59L390.70,32.59L385.70,27.59Z" fill="#fff" stroke="#8b2a96" stroke-width="2.0"/>
<path d="M404.83,25.82L409.83,30.82L404.83,35.82L399.83,30.82Z" fill="#fff" stroke="#8b2a96" stroke-width="2.0"/>
<path d="M418.97,29.32L423.97,34.32L418.97,39.32L413.97,34.32Z" fill="#fff" stroke="#8b2a96" stroke-width="2.0"/>
<path d="M433.10,32.56L438.10,37.56L433.10,42.56L428.10,37.56Z" fill="#fff" stroke="#8b2a96" stroke-width="2.0"/>
<path d="M447.24,36.33L452.24,41.33L447.24,46.33L442.24,41.33Z" fill="#fff" stroke="#8b2a96" stroke-width="2.0"/>
<path d="M461.38,40.37L466.38,45.37L461.38,50.37L456.38,45.37Z" fill="#fff" stroke="#8b2a96" stroke-width="2.0"/>
<path d="M475.51,44.68L480.51,49.68L475.51,54.68L470.51,49.68Z" fill="#fff" stroke="#8b2a96" stroke-width="2.0"/>
<path d="M489.64,50.33L494.64,55.33L489.64,60.33L484.64,55.33Z" fill="#fff" stroke="#8b2a96" stroke-width="2.0"/>
<path d="M503.78,56.26L508.78,61.26L503.78,66.26L498.78,61.26Z" fill="#fff" stroke="#8b2a96" stroke-width="2.0"/>
<path d="M517.91,62.46L522.91,67.46L517.91,72.46L512.91,67.46Z" fill="#fff" stroke="#8b2a96" stroke-width="2.0"/>
<path d="M532.05,71.08L537.05,76.08L532.05,81.08L527.05,76.08Z" fill="#fff" stroke="#8b2a96" stroke-width="2.0"/>
<path d="M546.18,83.20L551.18,88.20L546.18,93.20L541.18,88.20Z" fill="#fff" stroke="#8b2a96" stroke-width="2.0"/>
<path d="M560.32,103.48L566.32,109.48L560.32,115.48L554.32,109.48Z" fill="#8b2a96"/>
<path d="M574.45,143.54L579.45,148.54L574.45,153.54L569.45,148.54Z" fill="#fff" stroke="#8b2a96" stroke-width="2.0"/>
<path d="M588.59,164.55L593.59,169.55L588.59,174.55L583.59,169.55Z" fill="#fff" stroke="#8b2a96" stroke-width="2.0"/>
<path d="M602.72,170.75L607.72,175.75L602.72,180.75L597.72,175.75Z" fill="#fff" stroke="#8b2a96" stroke-width="2.0"/>
<path d="M616.86,174.25L621.86,179.25L616.86,184.25L611.86,179.25Z" fill="#fff" stroke="#8b2a96" stroke-width="2.0"/>
<path d="M631.00,176.94L636.00,181.94L631.00,186.94L626.00,181.94Z" fill="#fff" stroke="#8b2a96" stroke-width="2.0"/>
<path d="M645.13,179.10L650.13,184.10L645.13,189.10L640.13,184.10Z" fill="#fff" stroke="#8b2a96" stroke-width="2.0"/>
<path d="M659.26,180.71L664.26,185.71L659.26,190.71L654.26,185.71Z" fill="#fff" stroke="#8b2a96" stroke-width="2.0"/>
<path d="M673.40,182.33L678.40,187.33L673.40,192.33L668.40,187.33Z" fill="#fff" stroke="#8b2a96" stroke-width="2.0"/>
<text transform="translate(532.55,20.20) scale(1,1.042)" class="tt" text-anchor="middle">250bar</text>
<rect x="394.60" y="134.00" width="102.4" height="83.6" fill="#fff" stroke="#606060" stroke-width="1.1"/>
<line x1="402.30" y1="144.30" x2="413.30" y2="144.30" stroke="#000" stroke-width="2.0"/>
<circle cx="407.80" cy="160.10" r="4.2" fill="#fff" stroke="#0a3cff" stroke-width="2.0"/>
<rect x="403.75" y="171.75" width="8.10" height="8.10" fill="#fff" stroke="#ff2200" stroke-width="1.95"/>
<path d="M407.80,186.90L412.20,194.20L403.40,194.20Z" fill="#fff" stroke="#ff8c00" stroke-width="1.9" stroke-linejoin="miter"/>
<path d="M407.80,202.30L412.80,207.30L407.80,212.30L402.80,207.30Z" fill="#fff" stroke="#8b2a96" stroke-width="2.0"/>
<text transform="translate(421.00,149.20) scale(1,1.042)" class="lg">Exp. Data</text>
<text transform="translate(421.00,165.00) scale(1,1.042)" class="lg">SPC/E</text>
<text transform="translate(421.00,180.70) scale(1,1.042)" class="lg">TIP4P/2005</text>
<text transform="translate(421.00,196.30) scale(1,1.042)" class="lg">BK3</text>
<text transform="translate(421.00,212.20) scale(1,1.042)" class="lg">SWM4-NDP</text>
<path d="M71.80,274.45 L74.63,275.04 L77.45,275.63 L80.28,276.21 L83.11,276.79 L85.94,277.38 L88.77,277.97 L91.59,278.56 L94.42,279.15 L97.25,279.76 L100.07,280.37 L102.90,280.99 L105.73,281.60 L108.56,282.21 L111.39,282.83 L114.22,283.45 L117.05,284.09 L119.88,284.74 L122.70,285.41 L125.52,286.10 L128.34,286.83 L131.18,287.58 L134.01,288.35 L136.85,289.14 L139.68,289.96 L142.50,290.79 L145.33,291.63 L148.15,292.49 L150.97,293.37 L153.79,294.26 L156.61,295.16 L159.49,296.09 L162.43,297.03 L165.41,297.99 L168.39,298.96 L171.35,299.95 L174.26,300.96 L177.10,301.97 L179.83,303.01 L182.44,304.06 L184.88,305.12 L186.64,305.94 L188.31,306.79 L189.91,307.64 L191.46,308.51 L192.95,309.38 L194.41,310.25 L195.85,311.13 L197.28,312.00 L198.71,312.87 L200.15,313.73 L201.47,314.51 L202.76,315.28 L204.04,316.05 L205.30,316.82 L206.55,317.59 L207.80,318.36 L209.05,319.13 L210.31,319.92 L211.58,320.72 L212.87,321.53 L214.26,322.39 L215.67,323.24 L217.10,324.09 L218.54,324.95 L219.97,325.82 L221.41,326.71 L222.84,327.63 L224.25,328.60 L225.64,329.61 L227.00,330.67 L228.47,331.91 L229.94,333.23 L231.42,334.62 L232.88,336.06 L234.32,337.52 L235.72,339.00 L237.09,340.47 L238.41,341.92 L239.67,343.32 L240.85,344.66 L241.74,345.67 L242.59,346.66 L243.40,347.62 L244.18,348.57 L244.93,349.51 L245.66,350.45 L246.38,351.40 L247.09,352.36 L247.79,353.34 L248.49,354.35 L249.19,355.40 L249.88,356.46 L250.55,357.54 L251.21,358.62 L251.85,359.72 L252.49,360.83 L253.12,361.96 L253.75,363.09 L254.37,364.23 L254.99,365.37 L255.63,366.60 L256.26,367.86 L256.87,369.14 L257.48,370.43 L258.09,371.73 L258.69,373.03 L259.30,374.31 L259.92,375.58 L260.56,376.82 L261.21,378.02 L261.82,379.10 L262.43,380.18 L263.04,381.24 L263.66,382.28 L264.28,383.31 L264.92,384.32 L265.58,385.33 L266.26,386.31 L266.97,387.28 L267.71,388.24 L268.49,389.20 L269.30,390.15 L270.13,391.09 L270.98,392.01 L271.86,392.92 L272.75,393.81 L273.66,394.67 L274.58,395.51 L275.52,396.33 L276.47,397.12 L277.42,397.86 L278.38,398.56 L279.36,399.24 L280.35,399.90 L281.36,400.53 L282.38,401.16 L283.42,401.77 L284.48,402.37 L285.56,402.97 L286.65,403.57 L287.87,404.24 L289.09,404.89 L290.32,405.53 L291.57,406.17 L292.84,406.79 L294.15,407.41 L295.51,408.01 L296.92,408.60 L298.39,409.19 L299.94,409.76 L302.18,410.52 L304.57,411.26 L307.09,411.97 L309.72,412.67 L312.42,413.35 L315.18,414.01 L317.96,414.66 L320.75,415.28 L323.51,415.89 L326.23,416.48 L329.01,417.07 L331.80,417.62 L334.62,418.15 L337.45,418.66 L340.29,419.15 L343.13,419.64 L345.98,420.12 L348.83,420.60 L351.67,421.09 L354.50,421.60" fill="none" stroke="#000" stroke-width="2.6" stroke-linejoin="round"/>
<circle cx="71.80" cy="288.71" r="4.2" fill="#fff" stroke="#0a3cff" stroke-width="2.0"/>
<circle cx="85.94" cy="292.48" r="4.2" fill="#fff" stroke="#0a3cff" stroke-width="2.0"/>
<circle cx="100.07" cy="296.24" r="4.2" fill="#fff" stroke="#0a3cff" stroke-width="2.0"/>
<circle cx="114.20" cy="301.08" r="4.2" fill="#fff" stroke="#0a3cff" stroke-width="2.0"/>
<circle cx="128.34" cy="305.66" r="4.2" fill="#fff" stroke="#0a3cff" stroke-width="2.0"/>
<circle cx="142.47" cy="311.04" r="4.2" fill="#fff" stroke="#0a3cff" stroke-width="2.0"/>
<circle cx="156.61" cy="317.22" r="4.2" fill="#fff" stroke="#0a3cff" stroke-width="2.0"/>
<circle cx="170.75" cy="323.68" r="4.2" fill="#fff" stroke="#0a3cff" stroke-width="2.0"/>
<circle cx="184.88" cy="331.75" r="4.2" fill="#fff" stroke="#0a3cff" stroke-width="2.0"/>
<circle cx="199.01" cy="343.05" r="4.2" fill="#fff" stroke="#0a3cff" stroke-width="2.0"/>
<circle cx="213.15" cy="357.30" r="4.2" fill="#fff" stroke="#0a3cff" stroke-width="2.0"/>
<circle cx="227.29" cy="377.75" r="5.1" fill="#0a3cff"/>
<circle cx="241.42" cy="397.12" r="4.2" fill="#fff" stroke="#0a3cff" stroke-width="2.0"/>
<circle cx="255.56" cy="407.61" r="4.2" fill="#fff" stroke="#0a3cff" stroke-width="2.0"/>
<circle cx="269.69" cy="415.68" r="4.2" fill="#fff" stroke="#0a3cff" stroke-width="2.0"/>
<circle cx="283.82" cy="419.71" r="4.2" fill="#fff" stroke="#0a3cff" stroke-width="2.0"/>
<circle cx="297.96" cy="423.75" r="4.2" fill="#fff" stroke="#0a3cff" stroke-width="2.0"/>
<circle cx="312.09" cy="425.36" r="4.2" fill="#fff" stroke="#0a3cff" stroke-width="2.0"/>
<circle cx="326.23" cy="427.78" r="4.2" fill="#fff" stroke="#0a3cff" stroke-width="2.0"/>
<circle cx="340.37" cy="429.40" r="4.2" fill="#fff" stroke="#0a3cff" stroke-width="2.0"/>
<circle cx="354.50" cy="431.01" r="4.2" fill="#fff" stroke="#0a3cff" stroke-width="2.0"/>
<rect x="67.75" y="272.82" width="8.10" height="8.10" fill="#fff" stroke="#ff2200" stroke-width="1.95"/>
<rect x="81.89" y="275.51" width="8.10" height="8.10" fill="#fff" stroke="#ff2200" stroke-width="1.95"/>
<rect x="96.02" y="279.01" width="8.10" height="8.10" fill="#fff" stroke="#ff2200" stroke-width="1.95"/>
<rect x="110.15" y="282.24" width="8.10" height="8.10" fill="#fff" stroke="#ff2200" stroke-width="1.95"/>
<rect x="124.29" y="286.27" width="8.10" height="8.10" fill="#fff" stroke="#ff2200" stroke-width="1.95"/>
<rect x="138.42" y="290.04" width="8.10" height="8.10" fill="#fff" stroke="#ff2200" stroke-width="1.95"/>
<rect x="152.56" y="294.34" width="8.10" height="8.10" fill="#fff" stroke="#ff2200" stroke-width="1.95"/>
<rect x="166.69" y="299.45" width="8.10" height="8.10" fill="#fff" stroke="#ff2200" stroke-width="1.95"/>
<rect x="180.83" y="304.30" width="8.10" height="8.10" fill="#fff" stroke="#ff2200" stroke-width="1.95"/>
<rect x="194.96" y="310.21" width="8.10" height="8.10" fill="#fff" stroke="#ff2200" stroke-width="1.95"/>
<rect x="209.10" y="317.21" width="8.10" height="8.10" fill="#fff" stroke="#ff2200" stroke-width="1.95"/>
<rect x="223.24" y="327.16" width="8.10" height="8.10" fill="#fff" stroke="#ff2200" stroke-width="1.95"/>
<rect x="237.37" y="339.80" width="8.10" height="8.10" fill="#fff" stroke="#ff2200" stroke-width="1.95"/>
<rect x="250.66" y="359.94" width="9.80" height="9.80" fill="#ff2200"/>
<rect x="265.64" y="390.11" width="8.10" height="8.10" fill="#fff" stroke="#ff2200" stroke-width="1.95"/>
<rect x="279.77" y="405.98" width="8.10" height="8.10" fill="#fff" stroke="#ff2200" stroke-width="1.95"/>
<rect x="293.91" y="411.36" width="8.10" height="8.10" fill="#fff" stroke="#ff2200" stroke-width="1.95"/>
<rect x="308.04" y="415.93" width="8.10" height="8.10" fill="#fff" stroke="#ff2200" stroke-width="1.95"/>
<rect x="322.18" y="420.24" width="8.10" height="8.10" fill="#fff" stroke="#ff2200" stroke-width="1.95"/>
<rect x="336.31" y="421.85" width="8.10" height="8.10" fill="#fff" stroke="#ff2200" stroke-width="1.95"/>
<rect x="350.45" y="424.27" width="8.10" height="8.10" fill="#fff" stroke="#ff2200" stroke-width="1.95"/>
<path d="M71.80,269.91L76.20,277.21L67.40,277.21Z" fill="#fff" stroke="#ff8c00" stroke-width="1.9" stroke-linejoin="miter"/>
<path d="M85.94,271.79L90.34,279.09L81.53,279.09Z" fill="#fff" stroke="#ff8c00" stroke-width="1.9" stroke-linejoin="miter"/>
<path d="M100.07,275.02L104.47,282.32L95.67,282.32Z" fill="#fff" stroke="#ff8c00" stroke-width="1.9" stroke-linejoin="miter"/>
<path d="M114.20,279.59L118.60,286.89L109.80,286.89Z" fill="#fff" stroke="#ff8c00" stroke-width="1.9" stroke-linejoin="miter"/>
<path d="M128.34,283.36L132.74,290.66L123.94,290.66Z" fill="#fff" stroke="#ff8c00" stroke-width="1.9" stroke-linejoin="miter"/>
<path d="M142.47,289.81L146.88,297.11L138.07,297.11Z" fill="#fff" stroke="#ff8c00" stroke-width="1.9" stroke-linejoin="miter"/>
<path d="M156.61,294.12L161.01,301.42L152.21,301.42Z" fill="#fff" stroke="#ff8c00" stroke-width="1.9" stroke-linejoin="miter"/>
<path d="M170.75,300.04L175.15,307.34L166.34,307.34Z" fill="#fff" stroke="#ff8c00" stroke-width="1.9" stroke-linejoin="miter"/>
<path d="M184.88,306.76L189.28,314.06L180.48,314.06Z" fill="#fff" stroke="#ff8c00" stroke-width="1.9" stroke-linejoin="miter"/>
<path d="M199.01,314.83L203.41,322.13L194.61,322.13Z" fill="#fff" stroke="#ff8c00" stroke-width="1.9" stroke-linejoin="miter"/>
<path d="M213.15,327.47L217.55,334.77L208.75,334.77Z" fill="#fff" stroke="#ff8c00" stroke-width="1.9" stroke-linejoin="miter"/>
<path d="M227.29,345.61L232.94,355.01L221.64,355.01Z" fill="#ff8c00"/>
<path d="M241.42,376.70L245.82,384.00L237.02,384.00Z" fill="#fff" stroke="#ff8c00" stroke-width="1.9" stroke-linejoin="miter"/>
<path d="M255.56,394.99L259.95,402.29L251.16,402.29Z" fill="#fff" stroke="#ff8c00" stroke-width="1.9" stroke-linejoin="miter"/>
<path d="M269.69,403.87L274.09,411.17L265.29,411.17Z" fill="#fff" stroke="#ff8c00" stroke-width="1.9" stroke-linejoin="miter"/>
<path d="M283.82,408.17L288.22,415.47L279.43,415.47Z" fill="#fff" stroke="#ff8c00" stroke-width="1.9" stroke-linejoin="miter"/>
<path d="M297.96,412.21L302.36,419.51L293.56,419.51Z" fill="#fff" stroke="#ff8c00" stroke-width="1.9" stroke-linejoin="miter"/>
<path d="M312.09,413.82L316.49,421.12L307.69,421.12Z" fill="#fff" stroke="#ff8c00" stroke-width="1.9" stroke-linejoin="miter"/>
<path d="M326.23,415.97L330.63,423.27L321.83,423.27Z" fill="#fff" stroke="#ff8c00" stroke-width="1.9" stroke-linejoin="miter"/>
<path d="M340.37,417.59L344.76,424.89L335.97,424.89Z" fill="#fff" stroke="#ff8c00" stroke-width="1.9" stroke-linejoin="miter"/>
<path d="M354.50,418.93L358.90,426.23L350.10,426.23Z" fill="#fff" stroke="#ff8c00" stroke-width="1.9" stroke-linejoin="miter"/>
<path d="M71.80,261.11L76.80,266.11L71.80,271.11L66.80,266.11Z" fill="#fff" stroke="#8b2a96" stroke-width="2.0"/>
<path d="M85.94,264.61L90.94,269.61L85.94,274.61L80.94,269.61Z" fill="#fff" stroke="#8b2a96" stroke-width="2.0"/>
<path d="M100.07,267.57L105.07,272.57L100.07,277.57L95.07,272.57Z" fill="#fff" stroke="#8b2a96" stroke-width="2.0"/>
<path d="M114.20,271.34L119.20,276.34L114.20,281.34L109.20,276.34Z" fill="#fff" stroke="#8b2a96" stroke-width="2.0"/>
<path d="M128.34,274.56L133.34,279.56L128.34,284.56L123.34,279.56Z" fill="#fff" stroke="#8b2a96" stroke-width="2.0"/>
<path d="M142.47,278.60L147.47,283.60L142.47,288.60L137.47,283.60Z" fill="#fff" stroke="#8b2a96" stroke-width="2.0"/>
<path d="M156.61,282.90L161.61,287.90L156.61,292.90L151.61,287.90Z" fill="#fff" stroke="#8b2a96" stroke-width="2.0"/>
<path d="M170.75,288.55L175.75,293.55L170.75,298.55L165.75,293.55Z" fill="#fff" stroke="#8b2a96" stroke-width="2.0"/>
<path d="M184.88,292.32L189.88,297.32L184.88,302.32L179.88,297.32Z" fill="#fff" stroke="#8b2a96" stroke-width="2.0"/>
<path d="M199.01,297.97L204.01,302.97L199.01,307.97L194.01,302.97Z" fill="#fff" stroke="#8b2a96" stroke-width="2.0"/>
<path d="M213.15,305.77L218.15,310.77L213.15,315.77L208.15,310.77Z" fill="#fff" stroke="#8b2a96" stroke-width="2.0"/>
<path d="M227.29,313.84L232.29,318.84L227.29,323.84L222.29,318.84Z" fill="#fff" stroke="#8b2a96" stroke-width="2.0"/>
<path d="M241.42,326.21L246.42,331.21L241.42,336.21L236.42,331.21Z" fill="#fff" stroke="#8b2a96" stroke-width="2.0"/>
<path d="M255.56,344.77L260.56,349.77L255.56,354.77L250.56,349.77Z" fill="#fff" stroke="#8b2a96" stroke-width="2.0"/>
<path d="M269.69,377.13L275.69,383.13L269.69,389.13L263.69,383.13Z" fill="#8b2a96"/>
<path d="M283.82,395.34L288.82,400.34L283.82,405.34L278.82,400.34Z" fill="#fff" stroke="#8b2a96" stroke-width="2.0"/>
<path d="M297.96,403.15L302.96,408.15L297.96,413.15L292.96,408.15Z" fill="#fff" stroke="#8b2a96" stroke-width="2.0"/>
<path d="M312.09,408.53L317.09,413.53L312.09,418.53L307.09,413.53Z" fill="#fff" stroke="#8b2a96" stroke-width="2.0"/>
<path d="M326.23,411.75L331.23,416.75L326.23,421.75L321.23,416.75Z" fill="#fff" stroke="#8b2a96" stroke-width="2.0"/>
<path d="M340.37,414.44L345.37,419.44L340.37,424.44L335.37,419.44Z" fill="#fff" stroke="#8b2a96" stroke-width="2.0"/>
<path d="M354.50,417.13L359.50,422.13L354.50,427.13L349.50,422.13Z" fill="#fff" stroke="#8b2a96" stroke-width="2.0"/>
<text transform="translate(213.65,260.10) scale(1,1.042)" class="tt" text-anchor="middle">270bar</text>
<rect x="75.70" y="373.60" width="102.4" height="83.6" fill="#fff" stroke="#606060" stroke-width="1.1"/>
<line x1="83.40" y1="383.90" x2="94.40" y2="383.90" stroke="#000" stroke-width="2.0"/>
<circle cx="88.90" cy="399.70" r="4.2" fill="#fff" stroke="#0a3cff" stroke-width="2.0"/>
<rect x="84.85" y="411.35" width="8.10" height="8.10" fill="#fff" stroke="#ff2200" stroke-width="1.95"/>
<path d="M88.90,426.50L93.30,433.80L84.50,433.80Z" fill="#fff" stroke="#ff8c00" stroke-width="1.9" stroke-linejoin="miter"/>
<path d="M88.90,441.90L93.90,446.90L88.90,451.90L83.90,446.90Z" fill="#fff" stroke="#8b2a96" stroke-width="2.0"/>
<text transform="translate(102.10,388.80) scale(1,1.042)" class="lg">Exp. Data</text>
<text transform="translate(102.10,404.60) scale(1,1.042)" class="lg">SPC/E</text>
<text transform="translate(102.10,420.30) scale(1,1.042)" class="lg">TIP4P/2005</text>
<text transform="translate(102.10,435.90) scale(1,1.042)" class="lg">BK3</text>
<text transform="translate(102.10,451.80) scale(1,1.042)" class="lg">SWM4-NDP</text>
<path d="M390.70,273.64 L393.53,274.21 L396.36,274.76 L399.18,275.31 L402.01,275.87 L404.84,276.42 L407.67,276.98 L410.50,277.54 L413.32,278.11 L416.15,278.70 L418.97,279.29 L421.80,279.90 L424.63,280.52 L427.46,281.14 L430.29,281.77 L433.12,282.41 L435.94,283.05 L438.77,283.71 L441.60,284.38 L444.42,285.06 L447.24,285.75 L450.07,286.45 L452.91,287.16 L455.74,287.88 L458.57,288.61 L461.40,289.35 L464.22,290.11 L467.05,290.88 L469.87,291.66 L472.69,292.46 L475.51,293.28 L478.39,294.14 L481.34,295.02 L484.32,295.93 L487.32,296.86 L490.29,297.80 L493.21,298.74 L496.05,299.68 L498.77,300.62 L501.36,301.53 L503.78,302.43 L505.41,303.06 L506.94,303.68 L508.41,304.29 L509.81,304.90 L511.18,305.51 L512.52,306.12 L513.85,306.73 L515.18,307.35 L516.53,307.98 L517.91,308.62 L519.36,309.27 L520.83,309.94 L522.32,310.63 L523.82,311.31 L525.31,312.00 L526.77,312.69 L528.19,313.38 L529.55,314.05 L530.84,314.70 L532.05,315.34 L532.86,315.78 L533.60,316.21 L534.29,316.63 L534.95,317.03 L535.60,317.44 L536.24,317.85 L536.90,318.27 L537.59,318.71 L538.32,319.16 L539.12,319.64 L540.34,320.36 L541.65,321.09 L543.03,321.86 L544.47,322.64 L545.94,323.46 L547.44,324.30 L548.93,325.18 L550.41,326.08 L551.86,327.02 L553.25,327.98 L554.68,329.06 L556.10,330.18 L557.49,331.36 L558.87,332.57 L560.25,333.80 L561.61,335.06 L562.98,336.33 L564.35,337.59 L565.72,338.85 L567.10,340.09 L568.52,341.32 L569.96,342.55 L571.40,343.76 L572.85,344.98 L574.29,346.20 L575.72,347.44 L577.14,348.71 L578.54,350.01 L579.90,351.34 L581.24,352.73 L582.59,354.24 L583.88,355.80 L585.14,357.40 L586.37,359.04 L587.58,360.70 L588.80,362.38 L590.04,364.08 L591.30,365.77 L592.60,367.46 L593.96,369.14 L595.51,371.00 L597.10,372.91 L598.73,374.85 L600.39,376.81 L602.07,378.76 L603.77,380.68 L605.48,382.55 L607.20,384.36 L608.92,386.08 L610.64,387.70 L612.15,389.04 L613.67,390.34 L615.21,391.60 L616.76,392.81 L618.31,393.98 L619.85,395.10 L621.39,396.16 L622.92,397.17 L624.42,398.11 L625.91,399.00 L627.11,399.67 L628.31,400.30 L629.51,400.89 L630.70,401.44 L631.89,401.95 L633.05,402.44 L634.20,402.89 L635.33,403.32 L636.43,403.72 L637.50,404.11 L638.31,404.39 L639.07,404.63 L639.81,404.85 L640.54,405.05 L641.25,405.24 L641.98,405.42 L642.71,405.61 L643.48,405.80 L644.28,406.02 L645.13,406.26 L646.37,406.63 L647.68,407.03 L649.05,407.45 L650.47,407.88 L651.93,408.33 L653.40,408.79 L654.89,409.24 L656.37,409.70 L657.83,410.14 L659.26,410.57 L660.68,410.98 L662.09,411.39 L663.50,411.80 L664.92,412.20 L666.33,412.60 L667.74,413.00 L669.16,413.40 L670.57,413.80 L671.99,414.20 L673.40,414.60" fill="none" stroke="#000" stroke-width="2.6" stroke-linejoin="round"/>
<circle cx="390.70" cy="286.83" r="4.2" fill="#fff" stroke="#0a3cff" stroke-width="2.0"/>
<circle cx="404.83" cy="290.32" r="4.2" fill="#fff" stroke="#0a3cff" stroke-width="2.0"/>
<circle cx="418.97" cy="294.09" r="4.2" fill="#fff" stroke="#0a3cff" stroke-width="2.0"/>
<circle cx="433.10" cy="298.39" r="4.2" fill="#fff" stroke="#0a3cff" stroke-width="2.0"/>
<circle cx="447.24" cy="302.70" r="4.2" fill="#fff" stroke="#0a3cff" stroke-width="2.0"/>
<circle cx="461.38" cy="307.27" r="4.2" fill="#fff" stroke="#0a3cff" stroke-width="2.0"/>
<circle cx="475.51" cy="312.92" r="4.2" fill="#fff" stroke="#0a3cff" stroke-width="2.0"/>
<circle cx="489.64" cy="318.84" r="4.2" fill="#fff" stroke="#0a3cff" stroke-width="2.0"/>
<circle cx="503.78" cy="325.02" r="4.2" fill="#fff" stroke="#0a3cff" stroke-width="2.0"/>
<circle cx="517.91" cy="333.63" r="4.2" fill="#fff" stroke="#0a3cff" stroke-width="2.0"/>
<circle cx="532.05" cy="342.78" r="4.2" fill="#fff" stroke="#0a3cff" stroke-width="2.0"/>
<circle cx="546.18" cy="353.81" r="4.2" fill="#fff" stroke="#0a3cff" stroke-width="2.0"/>
<circle cx="560.32" cy="368.33" r="4.2" fill="#fff" stroke="#0a3cff" stroke-width="2.0"/>
<circle cx="574.45" cy="383.13" r="5.1" fill="#0a3cff"/>
<circle cx="588.59" cy="395.23" r="4.2" fill="#fff" stroke="#0a3cff" stroke-width="2.0"/>
<circle cx="602.72" cy="405.19" r="4.2" fill="#fff" stroke="#0a3cff" stroke-width="2.0"/>
<circle cx="616.86" cy="410.84" r="4.2" fill="#fff" stroke="#0a3cff" stroke-width="2.0"/>
<circle cx="631.00" cy="415.95" r="4.2" fill="#fff" stroke="#0a3cff" stroke-width="2.0"/>
<circle cx="645.13" cy="418.91" r="4.2" fill="#fff" stroke="#0a3cff" stroke-width="2.0"/>
<circle cx="659.26" cy="421.60" r="4.2" fill="#fff" stroke="#0a3cff" stroke-width="2.0"/>
<circle cx="673.40" cy="423.75" r="4.2" fill="#fff" stroke="#0a3cff" stroke-width="2.0"/>
<rect x="386.65" y="271.21" width="8.10" height="8.10" fill="#fff" stroke="#ff2200" stroke-width="1.95"/>
<rect x="400.78" y="273.90" width="8.10" height="8.10" fill="#fff" stroke="#ff2200" stroke-width="1.95"/>
<rect x="414.92" y="276.86" width="8.10" height="8.10" fill="#fff" stroke="#ff2200" stroke-width="1.95"/>
<rect x="429.05" y="280.09" width="8.10" height="8.10" fill="#fff" stroke="#ff2200" stroke-width="1.95"/>
<rect x="443.19" y="283.85" width="8.10" height="8.10" fill="#fff" stroke="#ff2200" stroke-width="1.95"/>
<rect x="457.32" y="287.89" width="8.10" height="8.10" fill="#fff" stroke="#ff2200" stroke-width="1.95"/>
<rect x="471.46" y="291.65" width="8.10" height="8.10" fill="#fff" stroke="#ff2200" stroke-width="1.95"/>
<rect x="485.59" y="295.96" width="8.10" height="8.10" fill="#fff" stroke="#ff2200" stroke-width="1.95"/>
<rect x="499.73" y="301.61" width="8.10" height="8.10" fill="#fff" stroke="#ff2200" stroke-width="1.95"/>
<rect x="513.87" y="306.45" width="8.10" height="8.10" fill="#fff" stroke="#ff2200" stroke-width="1.95"/>
<rect x="528.00" y="313.44" width="8.10" height="8.10" fill="#fff" stroke="#ff2200" stroke-width="1.95"/>
<rect x="542.13" y="318.82" width="8.10" height="8.10" fill="#fff" stroke="#ff2200" stroke-width="1.95"/>
<rect x="556.27" y="330.93" width="8.10" height="8.10" fill="#fff" stroke="#ff2200" stroke-width="1.95"/>
<rect x="570.40" y="341.96" width="8.10" height="8.10" fill="#fff" stroke="#ff2200" stroke-width="1.95"/>
<rect x="584.54" y="353.52" width="8.10" height="8.10" fill="#fff" stroke="#ff2200" stroke-width="1.95"/>
<rect x="597.82" y="374.73" width="9.80" height="9.80" fill="#ff2200"/>
<rect x="612.81" y="390.38" width="8.10" height="8.10" fill="#fff" stroke="#ff2200" stroke-width="1.95"/>
<rect x="626.95" y="401.94" width="8.10" height="8.10" fill="#fff" stroke="#ff2200" stroke-width="1.95"/>
<rect x="641.08" y="411.63" width="8.10" height="8.10" fill="#fff" stroke="#ff2200" stroke-width="1.95"/>
<rect x="655.22" y="411.63" width="8.10" height="8.10" fill="#fff" stroke="#ff2200" stroke-width="1.95"/>
<rect x="669.35" y="414.86" width="8.10" height="8.10" fill="#fff" stroke="#ff2200" stroke-width="1.95"/>
<path d="M390.70,268.83L395.10,276.13L386.30,276.13Z" fill="#fff" stroke="#ff8c00" stroke-width="1.9" stroke-linejoin="miter"/>
<path d="M404.83,271.79L409.23,279.09L400.44,279.09Z" fill="#fff" stroke="#ff8c00" stroke-width="1.9" stroke-linejoin="miter"/>
<path d="M418.97,275.02L423.37,282.32L414.57,282.32Z" fill="#fff" stroke="#ff8c00" stroke-width="1.9" stroke-linejoin="miter"/>
<path d="M433.10,279.05L437.50,286.35L428.70,286.35Z" fill="#fff" stroke="#ff8c00" stroke-width="1.9" stroke-linejoin="miter"/>
<path d="M447.24,282.55L451.64,289.85L442.84,289.85Z" fill="#fff" stroke="#ff8c00" stroke-width="1.9" stroke-linejoin="miter"/>
<path d="M461.38,288.20L465.77,295.50L456.98,295.50Z" fill="#fff" stroke="#ff8c00" stroke-width="1.9" stroke-linejoin="miter"/>
<path d="M475.51,291.96L479.91,299.26L471.11,299.26Z" fill="#fff" stroke="#ff8c00" stroke-width="1.9" stroke-linejoin="miter"/>
<path d="M489.64,296.81L494.04,304.11L485.25,304.11Z" fill="#fff" stroke="#ff8c00" stroke-width="1.9" stroke-linejoin="miter"/>
<path d="M503.78,302.73L508.18,310.03L499.38,310.03Z" fill="#fff" stroke="#ff8c00" stroke-width="1.9" stroke-linejoin="miter"/>
<path d="M517.91,309.45L522.31,316.75L513.51,316.75Z" fill="#fff" stroke="#ff8c00" stroke-width="1.9" stroke-linejoin="miter"/>
<path d="M532.05,316.98L536.45,324.28L527.65,324.28Z" fill="#fff" stroke="#ff8c00" stroke-width="1.9" stroke-linejoin="miter"/>
<path d="M546.18,328.01L550.58,335.31L541.78,335.31Z" fill="#fff" stroke="#ff8c00" stroke-width="1.9" stroke-linejoin="miter"/>
<path d="M560.32,346.03L564.72,353.33L555.92,353.33Z" fill="#fff" stroke="#ff8c00" stroke-width="1.9" stroke-linejoin="miter"/>
<path d="M574.45,366.32L580.10,375.72L568.80,375.72Z" fill="#ff8c00"/>
<path d="M588.59,384.23L592.99,391.53L584.19,391.53Z" fill="#fff" stroke="#ff8c00" stroke-width="1.9" stroke-linejoin="miter"/>
<path d="M602.72,394.72L607.12,402.02L598.32,402.02Z" fill="#fff" stroke="#ff8c00" stroke-width="1.9" stroke-linejoin="miter"/>
<path d="M616.86,401.99L621.26,409.29L612.46,409.29Z" fill="#fff" stroke="#ff8c00" stroke-width="1.9" stroke-linejoin="miter"/>
<path d="M631.00,406.02L635.39,413.32L626.60,413.32Z" fill="#fff" stroke="#ff8c00" stroke-width="1.9" stroke-linejoin="miter"/>
<path d="M645.13,409.25L649.53,416.55L640.73,416.55Z" fill="#fff" stroke="#ff8c00" stroke-width="1.9" stroke-linejoin="miter"/>
<path d="M659.26,412.21L663.66,419.51L654.87,419.51Z" fill="#fff" stroke="#ff8c00" stroke-width="1.9" stroke-linejoin="miter"/>
<path d="M673.40,414.36L677.80,421.66L669.00,421.66Z" fill="#fff" stroke="#ff8c00" stroke-width="1.9" stroke-linejoin="miter"/>
<path d="M390.70,260.04L395.70,265.04L390.70,270.04L385.70,265.04Z" fill="#fff" stroke="#8b2a96" stroke-width="2.0"/>
<path d="M404.83,263.26L409.83,268.26L404.83,273.26L399.83,268.26Z" fill="#fff" stroke="#8b2a96" stroke-width="2.0"/>
<path d="M418.97,266.49L423.97,271.49L418.97,276.49L413.97,271.49Z" fill="#fff" stroke="#8b2a96" stroke-width="2.0"/>
<path d="M433.10,269.72L438.10,274.72L433.10,279.72L428.10,274.72Z" fill="#fff" stroke="#8b2a96" stroke-width="2.0"/>
<path d="M447.24,273.22L452.24,278.22L447.24,283.22L442.24,278.22Z" fill="#fff" stroke="#8b2a96" stroke-width="2.0"/>
<path d="M461.38,276.98L466.38,281.98L461.38,286.98L456.38,281.98Z" fill="#fff" stroke="#8b2a96" stroke-width="2.0"/>
<path d="M475.51,280.75L480.51,285.75L475.51,290.75L470.51,285.75Z" fill="#fff" stroke="#8b2a96" stroke-width="2.0"/>
<path d="M489.64,285.32L494.64,290.32L489.64,295.32L484.64,290.32Z" fill="#fff" stroke="#8b2a96" stroke-width="2.0"/>
<path d="M503.78,290.70L508.78,295.70L503.78,300.70L498.78,295.70Z" fill="#fff" stroke="#8b2a96" stroke-width="2.0"/>
<path d="M517.91,296.08L522.91,301.08L517.91,306.08L512.91,301.08Z" fill="#fff" stroke="#8b2a96" stroke-width="2.0"/>
<path d="M532.05,301.73L537.05,306.73L532.05,311.73L527.05,306.73Z" fill="#fff" stroke="#8b2a96" stroke-width="2.0"/>
<path d="M546.18,308.19L551.18,313.19L546.18,318.19L541.18,313.19Z" fill="#fff" stroke="#8b2a96" stroke-width="2.0"/>
<path d="M560.32,316.80L565.32,321.80L560.32,326.80L555.32,321.80Z" fill="#fff" stroke="#8b2a96" stroke-width="2.0"/>
<path d="M574.45,328.09L579.45,333.09L574.45,338.09L569.45,333.09Z" fill="#fff" stroke="#8b2a96" stroke-width="2.0"/>
<path d="M588.59,346.66L593.59,351.66L588.59,356.66L583.59,351.66Z" fill="#fff" stroke="#8b2a96" stroke-width="2.0"/>
<path d="M602.72,366.64L608.72,372.64L602.72,378.64L596.72,372.64Z" fill="#8b2a96"/>
<path d="M616.86,386.47L621.86,391.47L616.86,396.47L611.86,391.47Z" fill="#fff" stroke="#8b2a96" stroke-width="2.0"/>
<path d="M631.00,395.88L636.00,400.88L631.00,405.88L626.00,400.88Z" fill="#fff" stroke="#8b2a96" stroke-width="2.0"/>
<path d="M645.13,401.53L650.13,406.53L645.13,411.53L640.13,406.53Z" fill="#fff" stroke="#8b2a96" stroke-width="2.0"/>
<path d="M659.26,406.10L664.26,411.10L659.26,416.10L654.26,411.10Z" fill="#fff" stroke="#8b2a96" stroke-width="2.0"/>
<path d="M673.40,409.60L678.40,414.60L673.40,419.60L668.40,414.60Z" fill="#fff" stroke="#8b2a96" stroke-width="2.0"/>
<text transform="translate(532.55,260.10) scale(1,1.042)" class="tt" text-anchor="middle">290bar</text>
<rect x="394.60" y="373.60" width="102.4" height="83.6" fill="#fff" stroke="#606060" stroke-width="1.1"/>
<line x1="402.30" y1="383.90" x2="413.30" y2="383.90" stroke="#000" stroke-width="2.0"/>
<circle cx="407.80" cy="399.70" r="4.2" fill="#fff" stroke="#0a3cff" stroke-width="2.0"/>
<rect x="403.75" y="411.35" width="8.10" height="8.10" fill="#fff" stroke="#ff2200" stroke-width="1.95"/>
<path d="M407.80,426.50L412.20,433.80L403.40,433.80Z" fill="#fff" stroke="#ff8c00" stroke-width="1.9" stroke-linejoin="miter"/>
<path d="M407.80,441.90L412.80,446.90L407.80,451.90L402.80,446.90Z" fill="#fff" stroke="#8b2a96" stroke-width="2.0"/>
<text transform="translate(421.00,388.80) scale(1,1.042)" class="lg">Exp. Data</text>
<text transform="translate(421.00,404.60) scale(1,1.042)" class="lg">SPC/E</text>
<text transform="translate(421.00,420.30) scale(1,1.042)" class="lg">TIP4P/2005</text>
<text transform="translate(421.00,435.90) scale(1,1.042)" class="lg">BK3</text>
<text transform="translate(421.00,451.80) scale(1,1.042)" class="lg">SWM4-NDP</text>
<path d="M71.5,221.0V5.5H673.4V460.6H390.7M354.5,460.6H71.5V245.4" class="ax"/>
</svg></body></html>
